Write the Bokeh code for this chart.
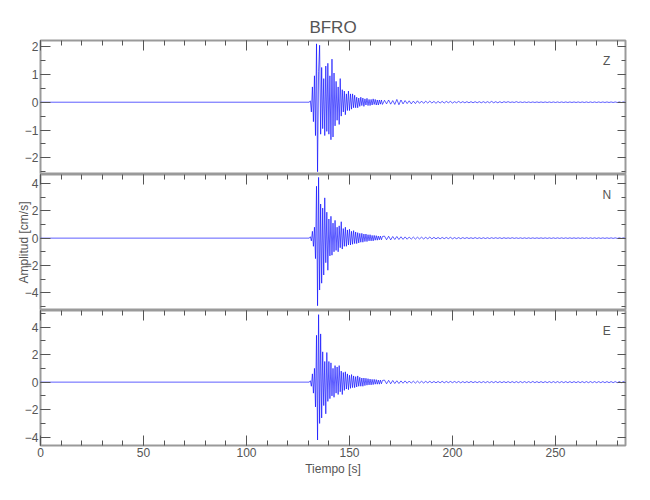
import numpy as np
from bokeh.plotting import figure
from bokeh.layouts import column
from bokeh.models import Range1d, LinearAxis, SingleIntervalTicker, Label, CustomJSTickFormatter
from bokeh.embed import file_html
from bokeh.resources import INLINE

# ---------------- data ----------------
title = "BFRO"
channels = ["Z", "N", "E"]
x_max = 284.0
pre_t = [0.0, 130.5]          # quiet trace before the arrival
burst_t0, burst_dt = 131.0, 0.5
tail_t0, tail_dt = 167.0, 1.0
end_t = 284.0

z_burst = [0.05, -0.35, 0.55, -0.7, 0.95, -1.2, 2.1, -2.5, 1.1, 2.05, -1.15, 1.25, -0.95, 0.85,
           -1.2, 1.3, -1.05, 1.4, -1.15, 0.95, -1.35, 1.55, -1.25, 1.05, -0.85, 0.75, -0.65, 0.55,
           -0.8, 0.85, -0.5, 0.45, -0.35, 0.4, -0.45, 0.3, -0.3, 0.4, -0.3, 0.3, -0.25, 0.3, -0.2,
           0.25, -0.2, 0.18, -0.2, 0.15, -0.15, 0.18, -0.12, 0.15, -0.15, 0.12, -0.1, 0.14, -0.12,
           0.1, -0.12, 0.1, -0.1, 0.12, -0.08, 0.1, -0.1, 0.08, -0.1, 0.08, -0.07, 0.08, -0.08]
z_tail = [0.07, -0.06, 0.08, -0.07, 0.06, -0.08, 0.1, -0.09, 0.08, -0.06,
          0.06, -0.05, 0.05, -0.06, 0.04, -0.05, 0.05, -0.04, 0.04, -0.04,
          0.04, -0.03, 0.04, -0.03, 0.03, -0.04, 0.03, -0.03, 0.03, -0.03,
          0.03, -0.02, 0.03, -0.03, 0.02, -0.02, 0.03, -0.02, 0.02, -0.02,
          0.02, -0.02, 0.02, -0.02, 0.02, -0.02, 0.02, -0.02, 0.02, -0.02,
          0.02, -0.02, 0.03, -0.02, 0.02, -0.02, 0.02, -0.02, 0.02, -0.01,
          0.02, -0.01, 0.01, -0.01, 0.02, -0.01, 0.01, -0.01, 0.01, -0.01,
          0.01, -0.01, 0.01, -0.01, 0.01, -0.01, 0.01, -0.01, 0.01, -0.01,
          0.01, -0.01, 0.01, -0.01, 0.01, -0.01, 0.01, -0.01, 0.01, -0.01,
          0.01, -0.01, 0.01, -0.01, 0.01, -0.01, 0.01, -0.01, 0.01, -0.01,
          0.01, -0.01, 0.01, -0.01, 0.01, -0.01, 0.01, -0.01, 0.01, -0.01,
          0.01, -0.01, 0.01, -0.01, 0.01, -0.01, 0.01, -0.01]

n_burst = [0.1, -0.2, 0.5, -0.6, 0.8, -1.5, 3.8, -4.95, 4.45, -3.8, 2.5, -3.3, 2.2, -2.7, 2.95,
           -1.8, 1.9, -2.35, 1.4, -1.3, 1.6, -1.25, 1.1, -1.0, 1.3, -0.9, 0.8, -1.0, 0.9, -0.7, 1.2,
           -0.8, 0.7, -0.6, 0.8, -0.6, 0.6, -0.5, 0.65, -0.5, 0.5, -0.45, 0.55, -0.4, 0.45, -0.4,
           0.4, -0.35, 0.35, -0.3, 0.35, -0.3, 0.3, -0.25, 0.3, -0.25, 0.25, -0.2, 0.25, -0.2, 0.2,
           -0.2, 0.2, -0.15, 0.18, -0.15, 0.15, -0.12, 0.15, -0.12, 0.12]
n_tail = [0.15, -0.12, 0.14, -0.13, 0.12, -0.1, 0.12, -0.1, 0.1, -0.09,
          0.09, -0.08, 0.08, -0.07, 0.08, -0.07, 0.07, -0.06, 0.07, -0.06,
          0.06, -0.05, 0.08, -0.06, 0.06, -0.05, 0.05, -0.05, 0.05, -0.04,
          0.05, -0.04, 0.06, -0.05, 0.04, -0.04, 0.04, -0.04, 0.04, -0.03,
          0.04, -0.03, 0.03, -0.03, 0.04, -0.03, 0.03, -0.03, 0.03, -0.03,
          0.03, -0.03, 0.03, -0.02, 0.03, -0.02, 0.03, -0.03, 0.03, -0.02,
          0.02, -0.02, 0.03, -0.02, 0.02, -0.02, 0.02, -0.02, 0.02, -0.02,
          0.02, -0.02, 0.02, -0.02, 0.02, -0.02, 0.02, -0.02, 0.02, -0.02,
          0.02, -0.02, 0.02, -0.02, 0.02, -0.02, 0.02, -0.02, 0.02, -0.02,
          0.02, -0.02, 0.02, -0.02, 0.02, -0.02, 0.02, -0.02, 0.02, -0.02,
          0.02, -0.02, 0.02, -0.02, 0.02, -0.02, 0.02, -0.02, 0.02, -0.02,
          0.02, -0.02, 0.02, -0.02, 0.02, -0.02, 0.02, -0.02]

e_burst = [0.1, -0.3, 0.6, -0.8, 1.0, -1.8, 3.4, -4.2, 4.9, -3.0, 3.5, -2.6, 2.2, -1.7, 1.5, -2.3,
           2.15, -1.4, 1.5, -1.2, 1.4, -1.0, 1.0, -1.1, 1.2, -0.8, 1.1, -0.9, 1.2, -0.7, 0.8, -0.9,
           0.7, -0.6, 0.75, -0.5, 0.6, -0.55, 0.5, -0.45, 0.55, -0.4, 0.45, -0.4, 0.4, -0.35, 0.45,
           -0.3, 0.35, -0.3, 0.3, -0.3, 0.3, -0.25, 0.28, -0.22, 0.25, -0.2, 0.22, -0.2, 0.2, -0.18,
           0.2, -0.15, 0.18, -0.15, 0.15, -0.15, 0.15, -0.12, 0.12]
e_tail = [0.15, -0.12, 0.13, -0.12, 0.12, -0.1, 0.1, -0.1, 0.09, -0.08,
          0.09, -0.08, 0.08, -0.07, 0.07, -0.07, 0.07, -0.06, 0.06, -0.06,
          0.06, -0.05, 0.06, -0.05, 0.05, -0.05, 0.05, -0.05, 0.06, -0.05,
          0.05, -0.04, 0.05, -0.04, 0.05, -0.04, 0.05, -0.05, 0.04, -0.04,
          0.04, -0.04, 0.05, -0.04, 0.04, -0.04, 0.04, -0.04, 0.04, -0.04,
          0.04, -0.04, 0.04, -0.04, 0.05, -0.04, 0.04, -0.04, 0.04, -0.04,
          0.04, -0.04, 0.04, -0.04, 0.04, -0.04, 0.04, -0.04, 0.04, -0.04,
          0.04, -0.04, 0.05, -0.04, 0.04, -0.04, 0.04, -0.04, 0.04, -0.04,
          0.04, -0.04, 0.04, -0.04, 0.04, -0.04, 0.04, -0.04, 0.04, -0.04,
          0.04, -0.04, 0.04, -0.04, 0.04, -0.04, 0.04, -0.04, 0.04, -0.04,
          0.04, -0.04, 0.04, -0.04, 0.04, -0.04, 0.04, -0.04, 0.04, -0.04,
          0.04, -0.04, 0.04, -0.04, 0.04, -0.04, 0.04, -0.04]

bursts = {"Z": z_burst, "N": n_burst, "E": e_burst}
tails = {"Z": z_tail, "N": n_tail, "E": e_tail}
y_limits = {"Z": (-2.6, 2.22), "N": (-5.3, 4.66), "E": (-4.6, 5.2)}
y_steps = {"Z": 1, "N": 2, "E": 2}
x_step = 50

# ---------------- style ----------------
FONT = "Liberation Sans"
TXT = "#555555"
FRAME = "#9a9a9a"
TICK = "#555555"
heights = [134, 136, 135]
blank = CustomJSTickFormatter(code="return ''")


def trace(ch):
    b = bursts[ch]
    tl = tails[ch]
    t = np.concatenate([pre_t, burst_t0 + burst_dt * np.arange(len(b)),
                        tail_t0 + tail_dt * np.arange(len(tl)), [end_t]])
    v = np.concatenate([[0.0, 0.0], b, tl, [0.0]])
    return t, v


def style_ticks(ax, tick_in, minor_in):
    ax.major_tick_in = tick_in
    ax.major_tick_out = 0
    ax.minor_tick_in = minor_in
    ax.minor_tick_out = 0
    ax.axis_line_color = None
    ax.major_tick_line_color = TICK
    ax.minor_tick_line_color = TICK
    ax.major_tick_line_width = 1
    ax.minor_tick_line_width = 1


def hidden_axis(interval, n_minor, tick_in, minor_in):
    a = LinearAxis(ticker=SingleIntervalTicker(interval=interval, num_minor_ticks=n_minor),
                   formatter=blank, major_label_text_font_size="1px", major_label_standoff=0)
    style_ticks(a, tick_in, minor_in)
    return a


xr = Range1d(0, x_max)
figs = []
for i, ch in enumerate(channels):
    first, last = i == 0, i == len(channels) - 1
    p = figure(frame_width=585, frame_height=heights[i], x_range=xr,
               y_range=Range1d(*y_limits[ch]), output_backend="svg",
               toolbar_location=None, x_axis_location="below" if last else None,
               min_border_left=40, min_border_right=10,
               min_border_top=40 if first else 0, min_border_bottom=36 if last else 0)
    p.background_fill_color = "white"
    p.border_fill_color = "white"
    p.xgrid.visible = False
    p.ygrid.visible = False
    p.outline_line_color = FRAME
    p.outline_line_width = 2

    t, v = trace(ch)
    p.line(t, v, line_color="#0000ff", line_width=0.8, line_alpha=0.8)

    # left axis
    ya = p.left[0]
    ya.ticker = SingleIntervalTicker(interval=y_steps[ch], num_minor_ticks=2)
    style_ticks(ya, 10, 5)
    ya.major_label_text_font = FONT
    ya.major_label_text_font_size = "12px"
    ya.major_label_text_color = TXT
    ya.major_label_standoff = 2
    if i == 1:
        ya.axis_label = "Amplitud [cm/s]"
        ya.axis_label_text_font = FONT
        ya.axis_label_text_font_size = "12px"
        ya.axis_label_text_font_style = "normal"
        ya.axis_label_text_color = TXT
        ya.axis_label_standoff = -9

    if last:
        xa = p.below[0]
        xa.ticker = SingleIntervalTicker(interval=x_step, num_minor_ticks=5)
        style_ticks(xa, 10, 5)
        xa.major_label_text_font = FONT
        xa.major_label_text_font_size = "12px"
        xa.major_label_text_color = TXT
        xa.major_label_standoff = 2
        xa.axis_label = "Tiempo [s]"
        xa.axis_label_text_font = FONT
        xa.axis_label_text_font_size = "12px"
        xa.axis_label_text_font_style = "normal"
        xa.axis_label_text_color = TXT
        xa.axis_label_standoff = 2

    # right and top axes: ticks only
    p.add_layout(hidden_axis(y_steps[ch], 2, 8, 4), "right")
    p.add_layout(hidden_axis(x_step, 5, 10, 5), "above")

    if first:
        p.title.text = title
        p.title.align = "center"
        p.title.text_font = FONT
        p.title.text_font_size = "17px"
        p.title.text_font_style = "normal"
        p.title.text_color = TXT
        p.title.standoff = 8

    y0, y1 = y_limits[ch]
    p.add_layout(Label(x=x_max * 0.968, y=y0 + (y1 - y0) * 0.85, text=ch,
                       text_font=FONT, text_font_size="12px", text_color=TXT,
                       text_align="center", text_baseline="middle"))
    figs.append(p)

layout = column(*figs, spacing=0)
open("out.html", "w").write(file_html(layout, INLINE))
